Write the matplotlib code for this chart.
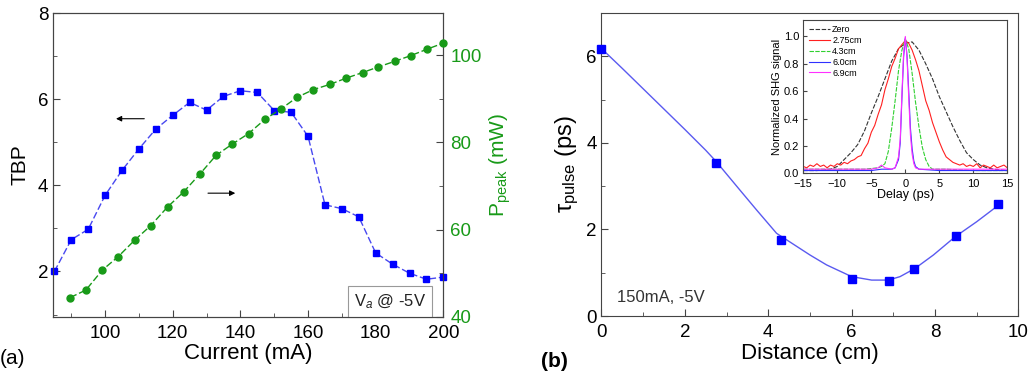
import matplotlib
matplotlib.use("Agg")
import matplotlib.pyplot as plt
from matplotlib.ticker import MultipleLocator

plt.rcParams["font.family"] = ["Liberation Sans", "DejaVu Sans"]
plt.rcParams["mathtext.fontset"] = "custom"
plt.rcParams["mathtext.rm"] = "Liberation Sans"
plt.rcParams["mathtext.it"] = "Liberation Sans:italic"

# (a) TBP and peak power vs current
current_tbp = [85, 90, 95, 100, 105, 110, 115, 120, 125, 130, 135, 140,
               145, 150, 155, 160, 165, 170, 175, 180, 185, 190, 195, 200]
tbp = [2.0, 2.74, 2.98, 3.77, 4.35, 4.85, 5.31, 5.63, 5.93, 5.75, 6.07, 6.20,
       6.16, 5.74, 5.70, 5.14, 3.55, 3.46, 3.27, 2.43, 2.17, 1.96, 1.82, 1.87]

current_p = [89.7, 94.3, 99.2, 103.9, 108.8, 113.5, 118.5, 123.2, 128.1, 132.8,
             137.6, 142.4, 147.3, 151.9, 156.7, 161.6, 166.5, 171.2, 176.1,
             180.8, 185.7, 190.4, 195.3, 199.8]
p_peak = [44.4, 46.1, 50.7, 53.8, 57.6, 60.9, 65.2, 68.6, 72.8, 77.0, 79.6,
          82.0, 85.3, 87.6, 90.3, 92.1, 93.3, 94.7, 96.0, 97.3, 98.6, 99.9,
          101.4, 102.7]

# (b) pulse width vs distance
distance = [0.0, 2.75, 4.3, 6.0, 6.9, 7.5, 8.5, 9.5]
tau_pulse = [6.18, 3.54, 1.76, 0.85, 0.81, 1.09, 1.85, 2.58]

# fitted curve
fit_x = [0.0, 0.5, 1.0, 1.5, 2.0, 2.5, 2.75, 3.32, 3.72, 4.2, 4.76, 5.0, 5.4,
         6.0, 6.48, 6.88, 7.16, 7.52, 7.96, 8.48, 9.0, 9.52]
fit_y = [6.18, 5.72, 5.25, 4.78, 4.31, 3.83, 3.57, 2.91, 2.45, 1.91, 1.56,
         1.41, 1.18, 0.91, 0.83, 0.83, 0.91, 1.10, 1.41, 1.83, 2.18, 2.56]

# inset: normalized SHG traces
delay_0 = [-15, -13, -11, -10, -9, -8, -7, -6, -5, -4, -3, -2, -1, 0, 1, 2,
           3, 4, 5, 6, 7, 8, 9, 10, 11, 12, 13, 15]
shg_0 = [0.02, 0.02, 0.03, 0.05, 0.10, 0.15, 0.21, 0.31, 0.44, 0.56, 0.69,
         0.82, 0.91, 0.95, 0.96, 0.90, 0.80, 0.69, 0.56, 0.45, 0.34, 0.24,
         0.15, 0.10, 0.06, 0.04, 0.03, 0.02]

delay_275 = [-15, -14.5, -14, -13.5, -13, -12.5, -12, -11.5, -11, -10.5, -10,
             -9.5, -9, -8.5, -8, -7.5, -7, -6.5, -6, -5.5, -5, -4.5, -4, -3.5,
             -3, -2.5, -2, -1.5, -1, -0.5, 0, 0.5, 1, 1.5, 2, 2.5, 3, 3.5, 4,
             4.5, 5, 5.5, 6, 6.5, 7, 7.5, 8, 8.5, 9, 9.5, 10, 10.5, 11, 11.5,
             12, 12.5, 13, 13.5, 14, 14.5, 15]
shg_275 = [0.05, 0.04, 0.06, 0.05, 0.07, 0.05, 0.06, 0.04, 0.06, 0.05, 0.07,
           0.06, 0.08, 0.07, 0.09, 0.10, 0.12, 0.13, 0.18, 0.22, 0.30, 0.35,
           0.43, 0.50, 0.61, 0.69, 0.78, 0.84, 0.91, 0.94, 0.97, 0.95, 0.90,
           0.83, 0.75, 0.64, 0.53, 0.46, 0.37, 0.30, 0.23, 0.17, 0.12, 0.10,
           0.08, 0.07, 0.06, 0.07, 0.05, 0.06, 0.05, 0.07, 0.04, 0.06, 0.05,
           0.04, 0.06, 0.04, 0.05, 0.06, 0.04]

delay_43 = [-15, -10, -6, -4, -3.5, -3, -2.5, -2, -1.5, -1, -0.5, 0, 0.5, 1,
            1.5, 2, 2.5, 3, 3.5, 4, 6, 10, 15]
shg_43 = [0.03, 0.03, 0.03, 0.04, 0.05, 0.07, 0.16, 0.33, 0.53, 0.75, 0.90,
          0.98, 0.91, 0.73, 0.52, 0.34, 0.19, 0.10, 0.05, 0.03, 0.03, 0.02, 0.02]

delay_60 = [-15, -10, -5, -3.5, -2, -1.5, -1, -0.75, -0.5, -0.25, 0, 0.25,
            0.5, 0.75, 1, 1.25, 1.5, 2, 5, 15]
shg_60 = [0.02, 0.02, 0.02, 0.03, 0.03, 0.04, 0.10, 0.22, 0.55, 0.85, 0.99,
          0.86, 0.60, 0.33, 0.18, 0.09, 0.05, 0.03, 0.02, 0.02]

delay_69 = [-15, -5, -4, -3.5, -3, -2, -1.5, -1, -0.75, -0.5, -0.25, 0, 0.25,
            0.5, 0.75, 1, 1.25, 1.5, 2, 15]
shg_69 = [0.03, 0.03, 0.04, 0.06, 0.04, 0.03, 0.04, 0.12, 0.25, 0.58, 0.88,
          1.0, 0.84, 0.55, 0.28, 0.14, 0.07, 0.04, 0.03, 0.03]

fig = plt.figure(figsize=(10.32, 3.71), dpi=100)
spine_col = "#444444"
green = "#189a18"

# ---- panel (a)
ax1 = fig.add_axes([0.0517, 0.1464, 0.3779, 0.8178])
ax1.plot(current_tbp, tbp, color="#4848f0", lw=1, ls=(0, (5, 2)),
         marker="s", ms=5, mfc="#0000ff", mec="#0000ff", clip_on=False, zorder=3)
ax1.set_xlim(84.7, 200)
ax1.set_ylim(0.95, 8)
ax1.xaxis.set_major_locator(MultipleLocator(20))
ax1.xaxis.set_minor_locator(MultipleLocator(10))
ax1.yaxis.set_major_locator(MultipleLocator(2))
ax1.yaxis.set_minor_locator(MultipleLocator(1))
ax1.tick_params(which="both", direction="in", labelsize=13.5, color=spine_col)
ax1.tick_params(which="major", length=5)
ax1.tick_params(which="minor", length=3)
ax1.tick_params(axis="x", pad=6)
ax1.set_xlabel("Current (mA)", fontsize=16, labelpad=1)
ax1.set_ylabel("TBP", fontsize=15, labelpad=6)
for s in ax1.spines.values():
    s.set_color(spine_col)

ax1b = ax1.twinx()
ax1b.plot(current_p, p_peak, color=green, lw=1, ls=(0, (5, 2)),
          marker="o", ms=5, mfc=green, mec=green, clip_on=False, zorder=3)
ax1b.set_ylim(40, 109.6)
ax1b.yaxis.set_major_locator(MultipleLocator(20))
ax1b.yaxis.set_minor_locator(MultipleLocator(10))
ax1b.tick_params(which="both", direction="in", labelsize=13.5, color=spine_col,
                 labelcolor=green)
ax1b.tick_params(which="major", length=5, pad=5)
ax1b.tick_params(which="minor", length=3)
ax1b.set_ylabel("P$_{\\mathrm{peak}}$ (mW)", fontsize=15, color=green, labelpad=4)
for s in ax1b.spines.values():
    s.set_color(spine_col)

ax1.annotate("", xy=(102.4, 5.55), xytext=(112.4, 5.55),
             arrowprops=dict(arrowstyle="-|>", color="black", lw=0.8,
                             mutation_scale=8))
ax1.annotate("", xy=(139.3, 3.82), xytext=(129.6, 3.82),
             arrowprops=dict(arrowstyle="-|>", color="black", lw=0.8,
                             mutation_scale=8))
ax1.text(0.955, 0.05, "V$_a$ @ -5V", transform=ax1.transAxes, fontsize=12,
         ha="right", va="center", color="#222222", zorder=5,
         bbox=dict(boxstyle="square,pad=0.35", fc="white", ec="#999999", lw=0.8))
fig.text(0.0, 0.035, "(a)", fontsize=15, ha="left", va="center")

# ---- panel (b)
ax2 = fig.add_axes([0.5828, 0.1482, 0.4041, 0.8167])
ax2.plot(fit_x, fit_y, color="#5a5af0", lw=1.0)
ax2.plot(distance, tau_pulse, ls="none", marker="s", ms=5.5, color="#0000ff",
         clip_on=False, zorder=3)
ax2.set_xlim(0, 10)
ax2.set_ylim(0, 7)
ax2.xaxis.set_major_locator(MultipleLocator(2))
ax2.xaxis.set_minor_locator(MultipleLocator(1))
ax2.yaxis.set_major_locator(MultipleLocator(2))
ax2.yaxis.set_minor_locator(MultipleLocator(1))
ax2.tick_params(which="both", direction="in", labelsize=13.5, color=spine_col)
ax2.tick_params(which="major", length=5)
ax2.tick_params(which="minor", length=3)
ax2.tick_params(axis="x", pad=6)
ax2.set_xlabel("Distance (cm)", fontsize=16, labelpad=1)
ax2.set_ylabel("τ$_{\\mathrm{pulse}}$ (ps)", fontsize=17, labelpad=4)
for s in ax2.spines.values():
    s.set_color(spine_col)
ax2.text(0.37, 0.42, "150mA, -5V", fontsize=12, color="#333333",
         ha="left", va="center")
fig.text(0.524, 0.025, "(b)", fontsize=15, fontweight="bold", ha="left",
         va="center")

# ---- inset
axi = fig.add_axes([0.7784, 0.5329, 0.1977, 0.4132])
axi.plot(delay_0, shg_0, color="#333333", lw=0.8, ls=(0, (4, 1.5)), label="Zero")
axi.plot(delay_275, shg_275, color="#ff2020", lw=0.8, label="2.75cm")
axi.plot(delay_43, shg_43, color="#30d030", lw=0.8, ls=(0, (4, 1.2)),
         label="4.3cm")
axi.plot(delay_60, shg_60, color="#3030ff", lw=0.8, label="6.0cm")
axi.plot(delay_69, shg_69, color="#ff30ff", lw=0.8, label="6.9cm")
axi.set_xlim(-15, 15)
axi.set_ylim(0, 1.12)
axi.xaxis.set_major_locator(MultipleLocator(5))
axi.yaxis.set_major_locator(MultipleLocator(0.2))
axi.yaxis.set_major_formatter(plt.FormatStrFormatter("%.1f"))
axi.tick_params(direction="in", labelsize=8, length=3, pad=2, color=spine_col)
axi.tick_params(axis="x", pad=4)
axi.tick_params(axis="y", pad=3)
axi.set_xlabel("Delay (ps)", fontsize=9, labelpad=0)
axi.set_ylabel("Normalized SHG signal", fontsize=8, labelpad=1)
for s in axi.spines.values():
    s.set_color(spine_col)
axi.legend(loc="upper left", fontsize=6.5, frameon=False, handlelength=2.4,
           handletextpad=0.2, labelspacing=0.2, borderaxespad=0.2)

fig.savefig("out.png", dpi=100)
